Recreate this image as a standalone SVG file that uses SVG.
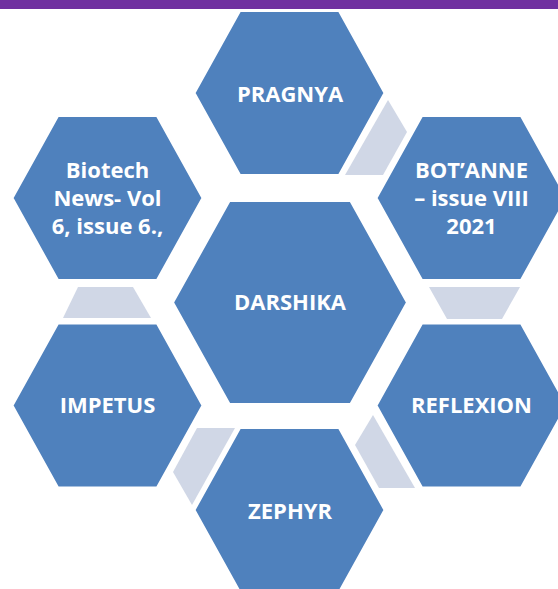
<svg xmlns="http://www.w3.org/2000/svg" width="558" height="589" viewBox="0 0 558 589">
<style>
.hex{fill:#4F81BD;stroke:#FFFFFF;stroke-width:2;stroke-linejoin:miter}
.con{fill:#D0D7E6}
.lbl{fill:#FFFFFF;font-family:"Open Sans","Liberation Sans",sans-serif;font-weight:bold;font-size:22px;text-anchor:middle}
</style>
<rect x="0" y="0" width="558" height="9" fill="#7030A0"/>
<g id="connectors">
<polygon class="con" points="388,100 407,132 383,175 345,175"/>
<polygon class="con" points="429,287 520,287 502,319 447,319"/>
<polygon class="con" points="373,415 415,488 379,488 355,445"/>
<polygon class="con" points="197,428 235,428 192,505 173,472"/>
<polygon class="con" points="78,287 133,287 151,318 63,318"/>
</g>
<g id="darshika">
<polygon class="hex" points="229.5,201 350.5,201 407,302.5 350.5,404 229.5,404 173,302.5"/>
<text class="lbl" x="290" y="310">DARSHIKA</text>
</g>
<g id="pragnya">
<polygon class="hex" points="240,11 339,11 384.5,93 339,175 240,175 194.5,93"/>
<text class="lbl" x="290" y="102">PRAGNYA</text>
</g>
<g id="botanne">
<polygon class="hex" points="422,116 521,116 566.5,198 521,280 422,280 376.5,198"/>
<text class="lbl" x="471.5" y="178">BOT’ANNE</text>
<text class="lbl" x="471.5" y="206">– issue VIII</text>
<text class="lbl" x="471.5" y="234">2021</text>
</g>
<g id="biotech">
<polygon class="hex" points="58,116 157,116 202.5,198 157,280 58,280 12.5,198"/>
<text class="lbl" x="107.5" y="178">Biotech</text>
<text class="lbl" x="107.5" y="206">News- Vol</text>
<text class="lbl" x="107.5" y="234">6, issue 6.,</text>
</g>
<g id="impetus">
<polygon class="hex" points="58,323.5 157,323.5 202.5,405.5 157,487.5 58,487.5 12.5,405.5"/>
<text class="lbl" x="107.5" y="413">IMPETUS</text>
</g>
<g id="reflexion">
<polygon class="hex" points="422,323.5 521,323.5 566.5,405.5 521,487.5 422,487.5 376.5,405.5"/>
<text class="lbl" x="471.5" y="413">REFLEXION</text>
</g>
<g id="zephyr">
<polygon class="hex" points="240,428 339,428 384.5,510 339,592 240,592 194.5,510"/>
<text class="lbl" x="290" y="519">ZEPHYR</text>
</g>
</svg>
